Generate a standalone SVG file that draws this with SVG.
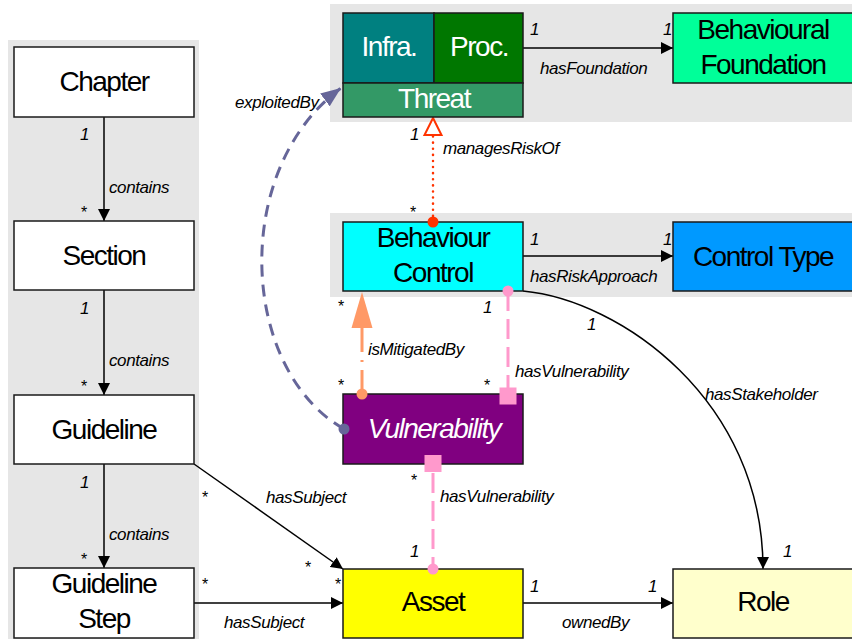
<svg xmlns="http://www.w3.org/2000/svg" width="852" height="639" viewBox="0 0 852 639">
<style>
.bg{fill:#e6e6e6}
.box{stroke:#1a1a1a;stroke-width:1.5}
.n{font-family:"Liberation Sans",Arial,sans-serif;font-size:28px;letter-spacing:-1.5px;text-anchor:middle;fill:#000}
.w{fill:#fff}
.l{font-family:"Liberation Sans",Arial,sans-serif;font-size:17px;font-style:italic;letter-spacing:-0.4px;fill:#000}
.s{font-family:"Liberation Sans",Arial,sans-serif;font-size:16px;fill:#000}
.e{fill:none;stroke:#000;stroke-width:1.5}
</style>
<defs>
<marker id="ab" viewBox="0 0 12 12" refX="12" refY="6" markerWidth="12" markerHeight="12" markerUnits="userSpaceOnUse" orient="auto"><path d="M0,0 L12,6 L0,12 Z" fill="#000"/></marker>
<marker id="ap" viewBox="0 0 20 16" refX="20" refY="8" markerWidth="20" markerHeight="16" markerUnits="userSpaceOnUse" orient="auto"><path d="M0,0 L20,8 L0,16 Z" fill="#666699"/></marker>
</defs>
<rect class="bg" x="8" y="40" width="191" height="600"/>
<rect class="bg" x="330" y="4" width="522" height="118"/>
<rect class="bg" x="330" y="213" width="522" height="84"/>

<g id="edges">
<line class="e" x1="104" y1="117" x2="104" y2="221" marker-end="url(#ab)"/>
<line class="e" x1="104" y1="290" x2="104" y2="395" marker-end="url(#ab)"/>
<line class="e" x1="104" y1="464" x2="104" y2="568" marker-end="url(#ab)"/>
<line class="e" x1="194" y1="464" x2="343" y2="569" marker-end="url(#ab)"/>
<line class="e" x1="194" y1="603" x2="343" y2="603" marker-end="url(#ab)"/>
<line class="e" x1="523" y1="48" x2="673" y2="48" marker-end="url(#ab)"/>
<line class="e" x1="523" y1="256" x2="673" y2="256" marker-end="url(#ab)"/>
<line class="e" x1="523" y1="603" x2="673" y2="603" marker-end="url(#ab)"/>
<path class="e" d="M523,291 C620,300 763,400 763,569" marker-end="url(#ab)"/>
<path d="M344,429 C240,370 230,170 341,88" fill="none" stroke="#666699" stroke-width="3" stroke-dasharray="12,8" marker-end="url(#ap)"/>
<line x1="433" y1="222" x2="433" y2="135" stroke="#ff3300" stroke-width="2.5" stroke-dasharray="0.1,6" stroke-linecap="round"/>
<path d="M433,118 L441.5,135 L424.5,135 Z" fill="#fff" stroke="#ff3300" stroke-width="2"/>
<line x1="362" y1="394" x2="362" y2="326" stroke="#ff9966" stroke-width="3" stroke-dasharray="24,8,2,8"/>
<path d="M362,292 L372.5,328 L351.5,328 Z" fill="#ff9966"/>
<line x1="508" y1="291" x2="508" y2="388" stroke="#ff99cc" stroke-width="3" stroke-dasharray="20,8"/>
<line x1="433" y1="473" x2="433" y2="569" stroke="#ff99cc" stroke-width="3" stroke-dasharray="20,8"/>

<text class="l" x="80" y="140">1</text>
<text class="l" x="109" y="193">contains</text>
<text class="s" x="81" y="218">*</text>
<text class="l" x="80" y="314">1</text>
<text class="l" x="109" y="366">contains</text>
<text class="s" x="81" y="392">*</text>
<text class="l" x="80" y="488">1</text>
<text class="l" x="109" y="540">contains</text>
<text class="s" x="81" y="565">*</text>
<text class="s" x="202" y="503">*</text>
<text class="l" x="266" y="503">hasSubject</text>
<text class="s" x="305" y="573">*</text>
<text class="s" x="202" y="590">*</text>
<text class="s" x="335" y="590">*</text>
<text class="l" x="224" y="628">hasSubject</text>
<text class="l" x="530" y="35">1</text>
<text class="l" x="663" y="35">1</text>
<text class="l" x="540" y="74">hasFoundation</text>
<text class="l" x="530" y="245">1</text>
<text class="l" x="663" y="245">1</text>
<text class="l" x="530" y="282">hasRiskApproach</text>
<text class="l" x="410" y="140">1</text>
<text class="l" x="443" y="154">managesRiskOf</text>
<text class="s" x="410" y="218">*</text>
<text class="l" x="235" y="108">exploitedBy</text>
<text class="s" x="338" y="312">*</text>
<text class="s" x="338" y="391">*</text>
<text class="l" x="368" y="355">isMitigatedBy</text>
<text class="l" x="483" y="313">1</text>
<text class="s" x="484" y="391">*</text>
<text class="l" x="515" y="377">hasVulnerability</text>
<text class="l" x="587" y="330">1</text>
<text class="l" x="705" y="400">hasStakeholder</text>
<text class="l" x="783" y="557">1</text>
<text class="s" x="411" y="486">*</text>
<text class="l" x="440" y="502">hasVulnerability</text>
<text class="l" x="410" y="557">1</text>
<text class="l" x="530" y="592">1</text>
<text class="l" x="648" y="592">1</text>
<text class="l" x="562" y="628">ownedBy</text>
</g>

<g id="chapter"><rect class="box" x="14" y="47" width="180" height="70" fill="#fff"/><text class="n" x="104" y="91">Chapter</text></g>
<g id="section"><rect class="box" x="14" y="221" width="180" height="69" fill="#fff"/><text class="n" x="104" y="265">Section</text></g>
<g id="guideline"><rect class="box" x="14" y="395" width="180" height="69" fill="#fff"/><text class="n" x="104" y="439">Guideline</text></g>
<g id="guidelinestep"><rect class="box" x="14" y="568" width="180" height="70" fill="#fff"/><text class="n" x="104" y="593">Guideline</text><text class="n" x="104" y="628">Step</text></g>
<g id="threat">
<rect class="box" x="343" y="13" width="91" height="70" fill="#008080"/>
<rect class="box" x="434" y="13" width="89" height="70" fill="#007700"/>
<rect class="box" x="343" y="83" width="180" height="34" fill="#339966"/>
<text class="n w" x="389" y="56">Infra.</text>
<text class="n w" x="479" y="56">Proc.</text>
<text class="n w" x="434" y="108">Threat</text>
</g>
<g id="behaviouralfoundation"><rect class="box" x="673" y="13" width="182" height="70" fill="#00ff99"/><text class="n" x="763" y="39">Behavioural</text><text class="n" x="763" y="74">Foundation</text></g>
<g id="behaviourcontrol"><rect class="box" x="343" y="222" width="180" height="69" fill="#00ffff"/><text class="n" x="433" y="247">Behaviour</text><text class="n" x="433" y="282">Control</text></g>
<g id="controltype"><rect class="box" x="673" y="222" width="182" height="69" fill="#0099ff"/><text class="n" x="763" y="266">Control Type</text></g>
<g id="vulnerability"><rect class="box" x="343" y="394" width="180" height="70" fill="#800080"/><text class="n w" x="434" y="438" font-style="italic">Vulnerability</text></g>
<g id="asset"><rect class="box" x="343" y="569" width="180" height="69" fill="#ffff00"/><text class="n" x="433" y="611">Asset</text></g>
<g id="role"><rect class="box" x="673" y="569" width="182" height="69" fill="#ffffcc"/><text class="n" x="763" y="611">Role</text></g>
<g id="edge-ends">
<circle cx="344" cy="429" r="5.5" fill="#666699"/>
<circle cx="362" cy="394" r="5.5" fill="#ff9966"/>
<circle cx="508" cy="291" r="5.5" fill="#ff99cc"/>
<rect x="499.5" y="387.5" width="17" height="17" fill="#ff99cc"/>
<rect x="424.5" y="455" width="17" height="17" fill="#ff99cc"/>
<circle cx="433" cy="569" r="5.5" fill="#ff99cc"/>
<circle cx="433" cy="222" r="5.5" fill="#ff3300"/>
</g>
</svg>
